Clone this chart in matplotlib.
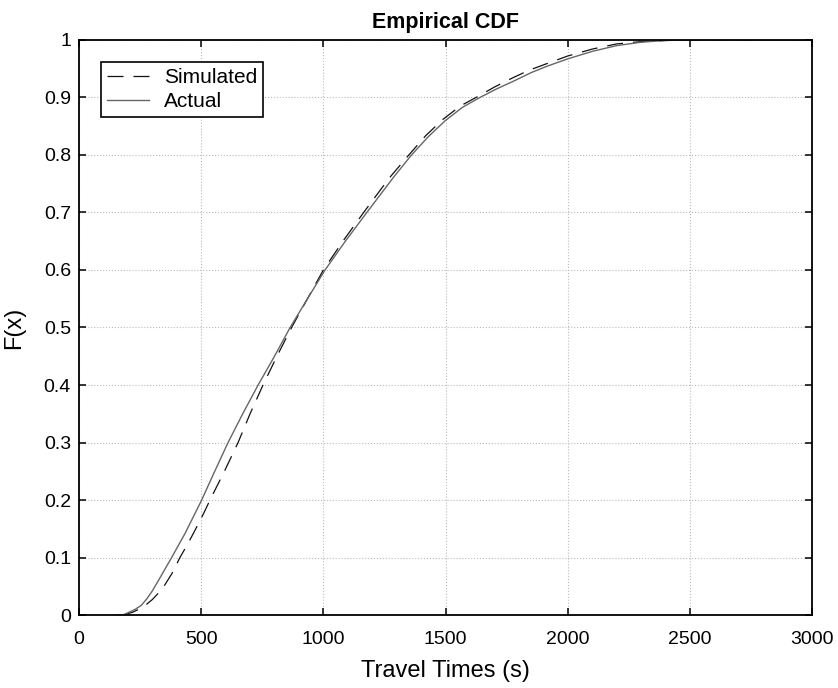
import matplotlib.pyplot as plt

plt.rcParams['font.family'] = ['Liberation Sans', 'DejaVu Sans']

# values
actual_x = [150, 180, 230, 255, 277, 300, 318, 379, 434, 502, 550, 610, 670, 733, 800,
            864, 935, 1007, 1090, 1178, 1285, 1361, 1430, 1500, 1570, 1641, 1710, 1777,
            1850, 1914, 2000, 2100, 2200, 2300, 2400, 2500, 3000]
actual_f = [0, 0, 0.01, 0.017, 0.028, 0.042, 0.055, 0.1, 0.142, 0.2, 0.245, 0.3, 0.35,
            0.4, 0.45, 0.5, 0.55, 0.6, 0.65, 0.7, 0.76, 0.8, 0.832, 0.86, 0.883, 0.9,
            0.915, 0.928, 0.943, 0.954, 0.967, 0.98, 0.99, 0.996, 0.999, 1.0, 1.0]

sim_x = [180, 220, 263, 300, 340, 380, 413, 440, 468, 508, 536, 595, 651, 700, 753,
         810, 870, 935, 1000, 1080, 1165, 1270, 1350, 1420, 1490, 1560, 1625, 1700,
         1770, 1840, 1910, 2000, 2100, 2200, 2300, 2400, 2500, 3000]
sim_f = [0, 0.005, 0.014, 0.027, 0.045, 0.072, 0.1, 0.12, 0.142, 0.175, 0.2, 0.25, 0.3,
         0.35, 0.4, 0.45, 0.5, 0.55, 0.6, 0.65, 0.7, 0.76, 0.8, 0.834, 0.862, 0.885,
         0.9, 0.918, 0.933, 0.947, 0.958, 0.972, 0.984, 0.993, 0.997, 0.999, 1.0, 1.0]

xticks = [0, 500, 1000, 1500, 2000, 2500, 3000]
yticks = [0, 0.1, 0.2, 0.3, 0.4, 0.5, 0.6, 0.7, 0.8, 0.9, 1]
ytick_labels = ['0', '0.1', '0.2', '0.3', '0.4', '0.5', '0.6', '0.7', '0.8', '0.9', '1']

fig = plt.figure(figsize=(8.38, 6.88), dpi=100)
ax = fig.add_axes([0.0943, 0.106, 0.8747, 0.836])

ax.plot(sim_x, sim_f, color='#111111', lw=0.9, linestyle=(0, (12.8, 8)), label='Simulated')
ax.plot(actual_x, actual_f, color='#666666', lw=1.0, label='Actual')

ax.set_xlim(0, 3000)
ax.set_ylim(0, 1)
ax.set_xticks(xticks)
ax.set_xticklabels([str(v) for v in xticks])
ax.set_yticks(yticks)
ax.set_yticklabels(ytick_labels)
ax.tick_params(direction='in', top=True, right=True, labelsize=14, length=5, width=1.1)
ax.tick_params(axis='x', pad=11.5)
ax.tick_params(axis='y', pad=5.8)
ax.grid(True, linestyle=':', color='#bbbbbb', lw=0.8)
for s in ax.spines.values():
    s.set_linewidth(1.3)

ax.set_xlabel('Travel Times (s)', fontsize=17)
ax.set_ylabel('F(x)', fontsize=17)
ax.xaxis.set_label_coords(0.5, -0.078)
ax.yaxis.set_label_coords(-0.073, 0.5)
ax.set_title('Empirical CDF', fontsize=15.5, fontweight='bold', pad=8.6)

leg = ax.legend(loc='upper left', bbox_to_anchor=(0.03, 0.962), borderaxespad=0,
                fancybox=False, edgecolor='black', framealpha=1, fontsize=15,
                handlelength=2.0, handletextpad=0.72, borderpad=0.3, labelspacing=0.25)
leg.get_frame().set_linewidth(1.2)

fig.savefig('out.png', dpi=100)
